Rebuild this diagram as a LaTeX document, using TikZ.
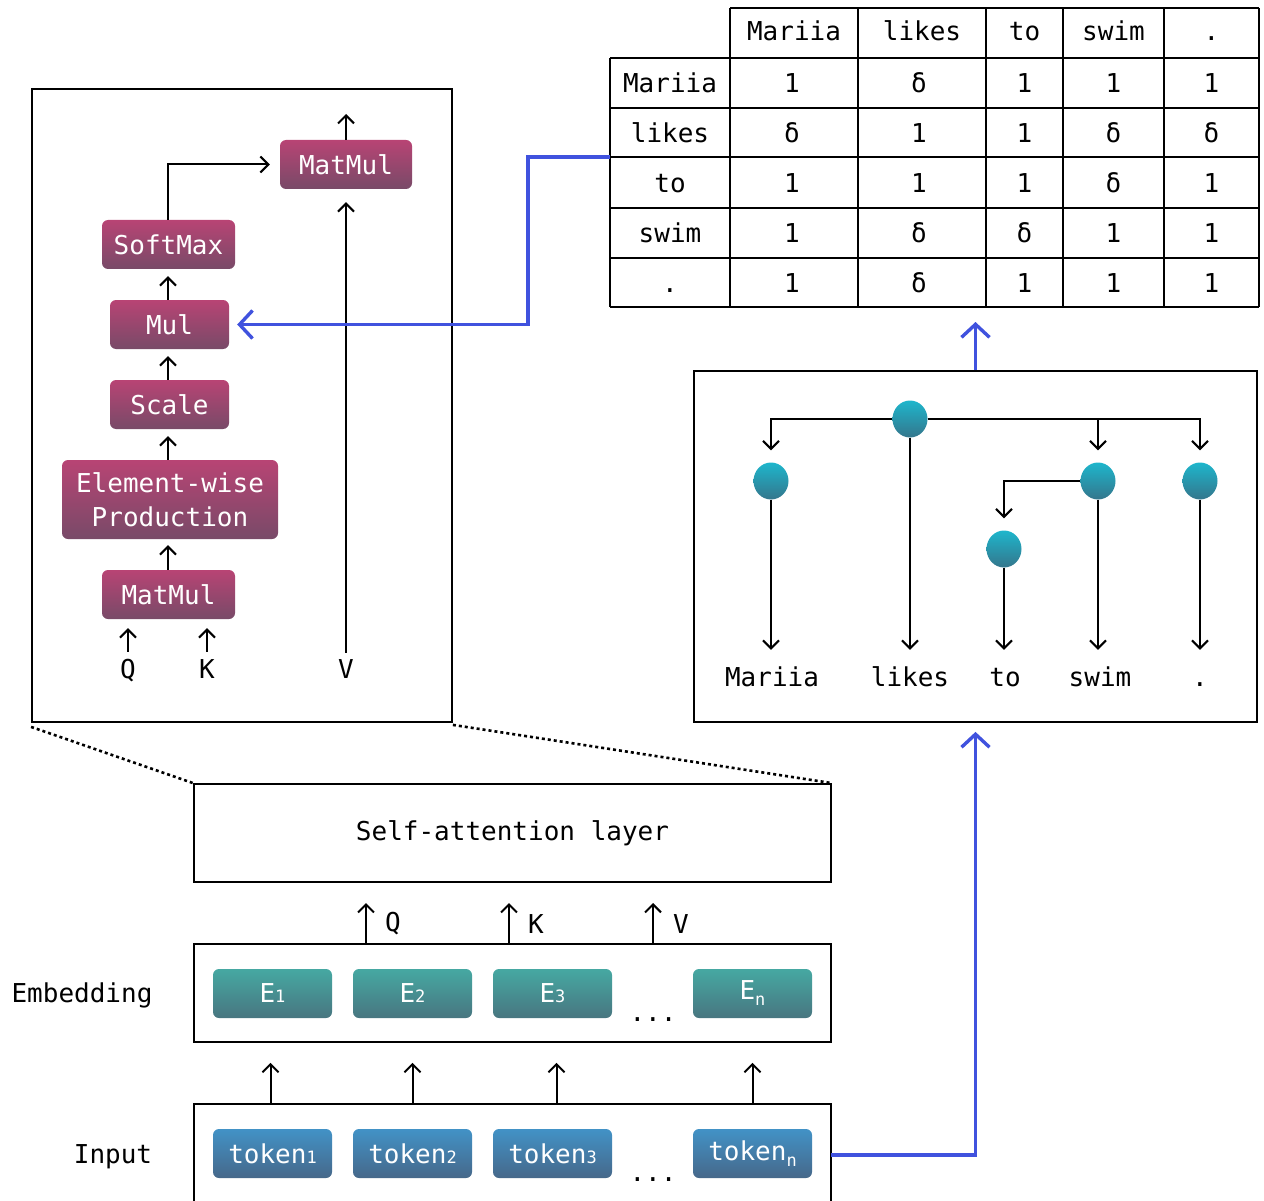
\documentclass[tikz,border=0pt]{standalone}
\usepackage{fontspec}
\setmainfont{DejaVu Sans Mono}
\usetikzlibrary{arrows.meta,calc,shapes.geometric}

\definecolor{opTop}{RGB}{184,68,116}
\definecolor{opBot}{RGB}{120,74,104}
\definecolor{embTop}{RGB}{70,168,162}
\definecolor{embBot}{RGB}{72,118,128}
\definecolor{tokTop}{RGB}{66,146,198}
\definecolor{tokBot}{RGB}{70,104,138}
\definecolor{depTop}{RGB}{30,182,204}
\definecolor{depBot}{RGB}{52,118,140}
\definecolor{linkBlue}{RGB}{64,82,222}

% small index digits sitting on the baseline, and a lowered index letter
\newcommand\subd[1]{{\fontsize{17}{17}\selectfont #1}}
\newcommand\subn[1]{\raisebox{-6pt}{\fontsize{17}{17}\selectfont #1}}

\begin{document}
\begin{tikzpicture}[x=1pt, y=-1pt,
  every node/.style={font=\fontsize{26}{31}\selectfont},
  frame/.style={draw=black, line width=1.8pt, inner sep=0pt},
  op/.style={rounded corners=6pt, top color=opTop, bottom color=opBot, text=white, minimum height=49pt, inner sep=0pt},
  emb/.style={rounded corners=6pt, top color=embTop, bottom color=embBot, text=white, minimum width=119pt, minimum height=49pt, inner sep=0pt},
  tok/.style={rounded corners=6pt, top color=tokTop, bottom color=tokBot, text=white, minimum width=119pt, minimum height=49pt, inner sep=0pt},
  dep/.style={ellipse, minimum width=35pt, minimum height=37pt, inner sep=0pt, top color=depTop, bottom color=depBot},
  arr/.style={line width=2pt, -{Straight Barb[length=8pt,width=16pt]}},
  link/.style={draw=linkBlue, line width=3.4pt, -{Straight Barb[length=13pt,width=28pt]}},
  cell/.style={inner sep=0pt, text height=25pt, text depth=5pt},
  zoomline/.style={line width=2.6pt, dash pattern=on 3pt off 3pt},
]
\useasboundingbox (0,0) rectangle (1264,1201);

% ---------------- scaled dot-product attention detail ----------------
\node[frame, minimum width=420pt, minimum height=633pt] (detail) at (242,405.5) {};
\node[op, minimum width=132pt] (mmTop) at (346,164.5) {MatMul};
\node[op, minimum width=133pt] (soft) at (168.5,244.5) {SoftMax};
\node[op, minimum width=119pt] (mul) at (169.5,324.5) {Mul};
\node[op, minimum width=119pt] (scale) at (169.5,404.5) {Scale};
\node[op, minimum width=216pt, minimum height=79pt, align=center, font=\fontsize{26}{34}\selectfont] (ewp) at (170,499.5) {Element-wise\\Production};
\node[op, minimum width=133pt] (mmBot) at (168.5,594.5) {MatMul};
\node[cell] (qIn) at (128,668) {Q};
\node[cell] (kIn) at (207,668) {K};
\node[cell] (vIn) at (346,668) {V};
\coordinate (out) at (346,114);
\coordinate (spine) at (168,0);

\draw[arr, shorten <=1pt, shorten >=9pt] (qIn.north) -- (qIn.north |- mmBot.south);
\draw[arr, shorten <=1pt, shorten >=9pt] (kIn.north) -- (kIn.north |- mmBot.south);
\draw[arr, shorten >=6pt] (spine |- mmBot.north) -- (spine |- ewp.south);
\draw[arr, shorten >=7pt] (spine |- ewp.north) -- (spine |- scale.south);
\draw[arr, shorten >=7pt] (spine |- scale.north) -- (spine |- mul.south);
\draw[arr, shorten >=7pt] (spine |- mul.north) -- (spine |- soft.south);
\draw[arr, shorten >=10pt] (spine |- soft.north) |- (mmTop.west);
\draw[arr] (mmTop.north) -- (out);
\draw[arr, shorten <=0pt, shorten >=13pt] (vIn.north) -- (mmTop.south);

% ---------------- attention mask table ----------------
\draw[line width=1.8pt] (730,8) -- (1259,8);
\foreach \yy in {58,108,157,208,258,307} \draw[line width=1.8pt] (610,\yy) -- (1259,\yy);
\draw[line width=1.8pt] (610,58) -- (610,307);
\foreach \xx in {730,858,986,1063,1164,1259} \draw[line width=1.8pt] (\xx,8) -- (\xx,307);

\foreach \w/\xx [count=\i] in {Mariia/794, likes/922, to/1024.5, swim/1113.5, ./1211.5}
  \node[cell] (head\i) at (\xx,31) {\w};
\foreach \w/\yy [count=\i] in {Mariia/83, likes/132.5, to/182.5, swim/233, ./282.5}
  \node[cell] (row\i) at (670,\yy) {\w};
\foreach \v/\xx [count=\i] in {1/792, δ/919, 1/1024.5, 1/1113.5, 1/1211.5}
  \node[cell] (ca\i) at (\xx,83) {\v};
\foreach \v/\xx [count=\i] in {δ/792, 1/919, 1/1024.5, δ/1113.5, δ/1211.5}
  \node[cell] (cb\i) at (\xx,132.5) {\v};
\foreach \v/\xx [count=\i] in {1/792, 1/919, 1/1024.5, δ/1113.5, 1/1211.5}
  \node[cell] (cc\i) at (\xx,182.5) {\v};
\foreach \v/\xx [count=\i] in {1/792, δ/919, δ/1024.5, 1/1113.5, 1/1211.5}
  \node[cell] (cd\i) at (\xx,233) {\v};
\foreach \v/\xx [count=\i] in {1/792, δ/919, 1/1024.5, 1/1113.5, 1/1211.5}
  \node[cell] (ce\i) at (\xx,282.5) {\v};
\coordinate (tabL) at (610,157);
\coordinate (tabB) at (977,307);

% ---------------- dependency tree ----------------
\node[frame, minimum width=563pt, minimum height=351pt] (tree) at (975.5,546.5) {};
\node[dep] (dLikes) at (910,419) {};
\node[dep] (dMar) at (771,481) {};
\node[dep] (dSwim) at (1098,481) {};
\node[dep] (dDot) at (1200,481) {};
\node[dep] (dTo) at (1004,549) {};
\node[cell] (wMar) at (772,676) {Mariia};
\node[cell] (wLikes) at (910,676) {likes};
\node[cell] (wTo) at (1005,676) {to};
\node[cell] (wSwim) at (1100,676) {swim};
\node[cell] (wDot) at (1200,676) {.};

\draw[arr, shorten >=12pt] (dLikes.west) -| (dMar.north);
\draw[arr, shorten >=12pt] (dLikes.east) -| (dSwim.north);
\draw[arr, shorten >=12pt] (dLikes.east) -| (dDot.north);
\draw[arr, shorten >=12pt] (dSwim.west) -| (dTo.north);
\draw[arr, shorten >=11pt] (dMar.south) -- (dMar.south |- wMar.north);
\draw[arr, shorten >=11pt] (dLikes.south) -- (dLikes.south |- wLikes.north);
\draw[arr, shorten >=11pt] (dTo.south) -- (dTo.south |- wTo.north);
\draw[arr, shorten >=11pt] (dSwim.south) -- (dSwim.south |- wSwim.north);
\draw[arr, shorten >=11pt] (dDot.south) -- (dDot.south |- wDot.north);

% ---------------- encoder stack ----------------
\node[frame, minimum width=637pt, minimum height=98pt] (sa) at (512.5,833) {Self-attention layer};
\draw[zoomline] ($(detail.south west)+(0,4)$) -- (sa.north west);
\draw[zoomline] ($(detail.south east)+(0,2)$) -- (sa.north east);

\node[frame, minimum width=637pt, minimum height=98pt] (embBox) at (512.5,993) {};
\node (embLbl) at (82,995) {Embedding};
\node[emb] (e1) at (272.5,993.5) {E\subd{1}};
\node[emb] (e2) at (412.5,993.5) {E\subd{2}};
\node[emb] (e3) at (552.5,993.5) {E\subd{3}};
\node[emb] (en) at (752.5,993.5) {E\subn{n}};
\node[anchor=base, inner sep=0pt] (eDots) at (653,1021) {...};

\coordinate (qTip) at (366,903);
\coordinate (kTip) at (509,903);
\coordinate (vTip) at (653,903);
\draw[arr] (qTip |- embBox.north) -- (qTip);
\draw[arr] (kTip |- embBox.north) -- (kTip);
\draw[arr] (vTip |- embBox.north) -- (vTip);
\node (qLbl) at (393,924) {Q};
\node (kLbl) at (536,924) {K};
\node (vLbl) at (681,924) {V};

\coordinate (inBL) at (194,1201);
\coordinate (inTL) at (194,1104);
\coordinate (inTR) at (831,1104);
\coordinate (inBR) at (831,1201);
\draw[line width=1.8pt] (inBL) -- (inTL) -- (inTR) -- (inBR);
\node (inLbl) at (113,1157) {Input};
\node[tok] (t1) at (272.5,1153.5) {token\subd{1}};
\node[tok] (t2) at (412.5,1153.5) {token\subd{2}};
\node[tok] (t3) at (552.5,1153.5) {token\subd{3}};
\node[tok] (tn) at (752.5,1153.5) {token\subn{n}};
\node[anchor=base, inner sep=0pt] (tDots) at (653,1181) {...};

\draw[arr, shorten >=20pt] ([xshift=-2pt]t1.north |- inTL) -- ([xshift=-2pt]t1.north |- embBox.south);
\draw[arr, shorten >=20pt] (t2.north |- inTL) -- (t2.north |- embBox.south);
\draw[arr, shorten >=20pt] ([xshift=4pt]t3.north |- inTL) -- ([xshift=4pt]t3.north |- embBox.south);
\draw[arr, shorten >=20pt] (tn.north |- inTL) -- (tn.north |- embBox.south);

% ---------------- blue links between the panels ----------------
\coordinate (inR) at (831,1155);
\draw[link, shorten >=9pt] (inR) -| (tree.south);
\draw[link, shorten >=15pt] (tree.north) -- (tree.north |- tabB);
\coordinate (jog) at (528,0);
\draw[link, shorten >=8pt] (tabL) -- (tabL -| jog) |- (mul.east);
\end{tikzpicture}
\end{document}
